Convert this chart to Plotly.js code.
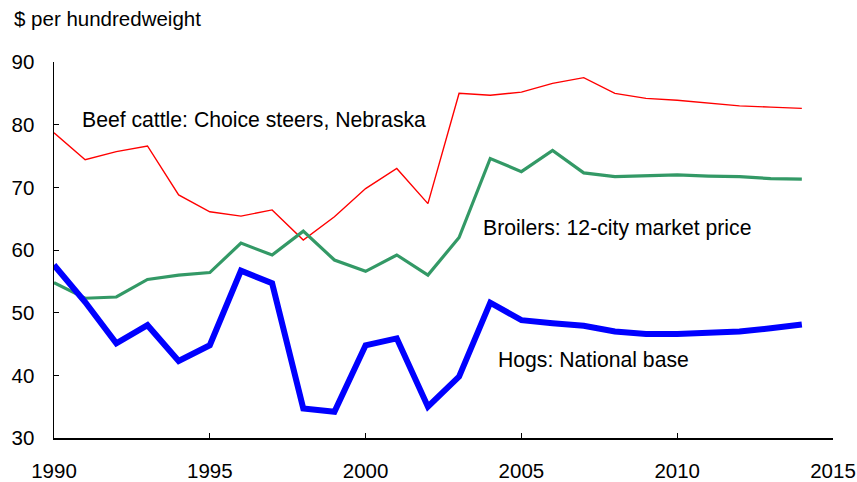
<!DOCTYPE html>
<html>
<head>
<meta charset="utf-8">
<script src="https://cdn.plot.ly/plotly-3.0.1.min.js"></script>
<style>html,body{margin:0;padding:0;background:#fff;}#chart{width:857px;height:482px;}</style>
</head>
<body>
<div id="chart"></div>
<script>
const years = [1990,1991,1992,1993,1994,1995,1996,1997,1998,1999,2000,2001,2002,2003,2004,2005,2006,2007,2008,2009,2010,2011,2012,2013,2014];
const beef = [78.7,74.4,75.7,76.6,68.8,66.1,65.4,66.4,61.6,65.3,69.8,73.0,67.4,85.0,84.7,85.2,86.6,87.5,85.0,84.2,83.9,83.5,83.0,82.8,82.6];
const broilers = [54.8,52.3,52.5,55.3,56.0,56.4,61.1,59.2,63.0,58.4,56.6,59.2,56.0,62.0,74.6,72.5,75.9,72.3,71.7,71.8,72.0,71.8,71.7,71.4,71.3];
const hogs = [57.6,51.7,45.1,48.0,42.3,44.8,56.7,54.7,34.7,34.2,44.8,45.9,35.0,39.8,51.6,48.8,48.3,47.9,47.0,46.6,46.6,46.8,47.0,47.5,48.1];
const xTicks = [1990,1995,2000,2005,2010,2015];
const yTicks = [30,40,50,60,70,80,90];
const labels = ["Beef cattle: Choice steers, Nebraska","Broilers: 12-city market price","Hogs: National base"];
const yTitle = "$ per hundredweight";

const font = {family:"Liberation Sans, Arial, sans-serif", size:20.5, color:"#000"};
const annFont = {family:"Liberation Sans, Arial, sans-serif", size:21.2, color:"#000"};
const traces = [
  {x:years, y:beef, type:"scatter", mode:"lines", line:{color:"#ff0000", width:1.4}, hoverinfo:"skip"},
  {x:years, y:broilers, type:"scatter", mode:"lines", line:{color:"#339966", width:3.2}, hoverinfo:"skip"},
  {x:years, y:hogs, type:"scatter", mode:"lines", line:{color:"#0000ff", width:6}, hoverinfo:"skip"}
];
const layout = {
  width:857, height:482,
  margin:{l:54, r:24, t:62, b:44},
  paper_bgcolor:"#fff", plot_bgcolor:"#fff",
  showlegend:false,
  font:font,
  xaxis:{range:[1990,2015], tickvals:xTicks, ticktext:xTicks.map(String), ticks:"inside", ticklen:5, tickcolor:"#000", tickwidth:1,
         showline:true, linecolor:"#000", linewidth:1.5, showgrid:false, zeroline:false, tickfont:font, ticklabelstandoff:14},
  yaxis:{range:[30,90], tickvals:yTicks, ticktext:yTicks.map(String), ticks:"inside", ticklen:5, tickcolor:"#000", tickwidth:1,
         showline:true, linecolor:"#000", linewidth:1.5, showgrid:false, zeroline:false, tickfont:font, ticklabelstandoff:14},
  annotations:[
    {xref:"paper", yref:"paper", x:-0.0535, y:1.117, xanchor:"left", yanchor:"middle", text:yTitle, showarrow:false, font:font},
    {xref:"x", yref:"y", x:1990.85, y:80.8, xanchor:"left", yanchor:"middle", text:labels[0], showarrow:false, font:annFont},
    {xref:"x", yref:"y", x:2003.7, y:63.45, xanchor:"left", yanchor:"middle", text:labels[1], showarrow:false, font:annFont},
    {xref:"x", yref:"y", x:2004.2, y:42.44, xanchor:"left", yanchor:"middle", text:labels[2], showarrow:false, font:annFont}
  ]
};
Plotly.newPlot("chart", traces, layout, {staticPlot:true, displayModeBar:false});
</script>
</body>
</html>
